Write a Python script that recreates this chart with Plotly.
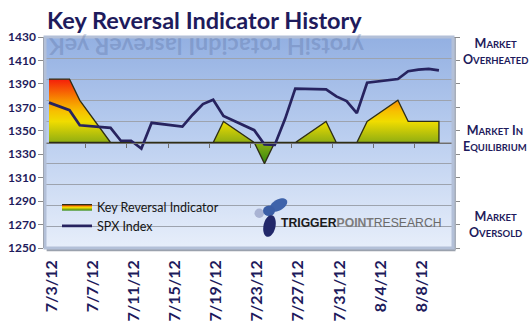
import base64
import math
import pandas as pd
import plotly.graph_objects as go

# ---------------- data ----------------
dates = ["2012-07-03", "2012-07-05", "2012-07-06", "2012-07-09", "2012-07-10",
         "2012-07-11", "2012-07-12", "2012-07-13", "2012-07-16", "2012-07-17",
         "2012-07-18", "2012-07-19", "2012-07-20", "2012-07-23", "2012-07-24",
         "2012-07-25", "2012-07-26", "2012-07-27", "2012-07-30", "2012-07-31",
         "2012-08-01", "2012-08-02", "2012-08-03", "2012-08-06", "2012-08-07",
         "2012-08-08", "2012-08-09", "2012-08-10"]
spx_values = [1374.0, 1367.6, 1354.7, 1352.5, 1341.5, 1341.5, 1334.8, 1356.8,
              1353.6, 1363.7, 1372.8, 1376.5, 1362.7, 1350.5, 1338.3, 1337.9,
              1360.0, 1386.0, 1385.3, 1379.3, 1375.3, 1365.0, 1391.0, 1394.2,
              1400.8, 1402.2, 1402.8, 1401.5]
kri_values = [3, 3, 2, 0, 0, 0, 0, 0, 0, 0, 0, 0, 1, 0, -1, 0, 0, 0, 1, 0,
              0, 0, 1, 2, 1, 1, 1, 1]
x_tick_labels = ["7/3/12", "7/7/12", "7/11/12", "7/15/12", "7/19/12",
                 "7/23/12", "7/27/12", "7/31/12", "8/4/12", "8/8/12"]
y_tick_values = [1250, 1270, 1290, 1310, 1330, 1350, 1370, 1390, 1410, 1430]
right_labels = [("Market", "Overheated"), ("Market in", "Equilibrium"), ("Market", "Oversold")]

NAVY = "#1e1b5c"
W, H = 532, 326
L, R, T, B = 45, 79, 37, 78
PW, PH = W - L - R, H - T - B


def px(xp):
    return (xp - L) / PW


def py(yp):
    return (H - B - yp) / PH


def ellipse_path(cx, cy, rx, ry, ang_deg, n=36):
    a = math.radians(ang_deg)
    pts = []
    for i in range(n):
        t = 2 * math.pi * i / n
        ex, ey = rx * math.cos(t), ry * math.sin(t)
        xp = cx + ex * math.cos(a) - ey * math.sin(a)
        yp = cy + ex * math.sin(a) + ey * math.cos(a)
        pts.append(f"{px(xp):.5f},{py(yp):.5f}")
    return "M" + " L".join(pts) + " Z"


d0 = pd.Timestamp(dates[0])
x_range = [d0 - pd.Timedelta(days=0.39), d0 + pd.Timedelta(days=39.37)]
tick_dates = [pd.Timestamp(f"2012-{t.split('/')[0]}-{t.split('/')[1]}") + pd.Timedelta(hours=7)
              for t in x_tick_labels]
base_ticks = [d0 + pd.Timedelta(days=3.6 + 4 * k) for k in range(9)]

fig = go.Figure()

# indicator area (closed polygon to the zero baseline)
poly_x = dates + [dates[-1], dates[0]]
poly_y = kri_values + [0, 0]
fig.add_trace(go.Scatter(
    x=poly_x, y=poly_y, xaxis="x", yaxis="y", mode="lines", fill="toself",
    name="Key Reversal Indicator",
    line=dict(color="#2e2e16", width=1.3),
    fillgradient=dict(type="vertical", start=-1, stop=3,
                      colorscale=[[0.0, "#2f8a10"], [0.25, "#8fae12"],
                                  [0.5, "#f0dc00"], [0.62, "#f7c000"],
                                  [0.75, "#f79000"], [1.0, "#f51e0a"]]),
    hoverinfo="skip"))

fig.add_trace(go.Scatter(
    x=dates, y=spx_values, xaxis="x2", yaxis="y2", mode="lines",
    name="SPX Index", line=dict(color="#27235f", width=2.7)))

# background gradient
svg = ("<svg xmlns='http://www.w3.org/2000/svg' width='10' height='100' preserveAspectRatio='none'>"
       "<defs><linearGradient id='g' x1='0' y1='0' x2='0' y2='1'>"
       "<stop offset='0' stop-color='#93b0e2'/><stop offset='0.5' stop-color='#bdd0f0'/>"
       "<stop offset='1' stop-color='#e7eefa'/></linearGradient></defs>"
       "<rect width='10' height='100' fill='url(#g)'/></svg>")
bg_src = "data:image/svg+xml;base64," + base64.b64encode(svg.encode()).decode()

title = "Key Reversal Indicator History"
annotations = [
    dict(text=title, xref="paper", yref="paper", x=px(45), y=py(20),
         xanchor="left", yanchor="middle", showarrow=False,
         font=dict(family="Lato", size=23.5, color=NAVY, weight="bold")),
    # faded mirror reflection of the title at the top of the wall
    dict(text=title[::-1], textangle=180, xref="paper", yref="paper",
         x=px(206), y=py(31), xanchor="center", yanchor="top", showarrow=False,
         font=dict(family="Lato", size=23.5, color="rgba(80,100,150,0.28)", weight="bold")),
    dict(text="<b>TRIGGER</b><b><span style='color:#7c7c7c'>POINT</span></b>"
              "<span style='color:#6a6a6a'>RESEARCH</span>",
         xref="paper", yref="paper", x=px(279), y=py(223), xanchor="left",
         yanchor="middle", showarrow=False,
         font=dict(family="Liberation Sans", size=12.2, color="#1a1a1a")),
]
for (a, b), yc in zip(right_labels, [51, 138.5, 224.5]):
    def sc(s):
        words = []
        for w in s.split(" "):
            words.append(w[0].upper() + "<span style='font-size:9.5px'>" + w[1:].upper() + "</span>")
        return " ".join(words)
    annotations.append(dict(
        text=sc(a) + "<br>" + sc(b), xref="paper", yref="paper", x=px(495), y=py(yc),
        xanchor="center", yanchor="middle", showarrow=False, align="center",
        font=dict(family="Lato", size=12.5, color=NAVY, weight="bold")))

shapes = [
    # wall shadow (bottom / right) and bevel border
    dict(type="line", xref="paper", yref="paper", x0=0.004, x1=1 + 2.5 / PW,
         y0=-2 / PH, y1=-2 / PH, line=dict(color="#9aa1ad", width=2.5), layer="above"),
    dict(type="line", xref="paper", yref="paper", x0=1 + 2 / PW, x1=1 + 2 / PW,
         y0=-2 / PH, y1=0.995, line=dict(color="#a7aeba", width=2), layer="above"),
    dict(type="rect", xref="paper", yref="paper", x0=0, x1=1, y0=0, y1=1,
         line=dict(color="#b3c0d8", width=3), layer="above"),
    # logo blobs
    dict(type="circle", xref="paper", yref="paper", x0=px(254.5), x1=px(264),
         y0=py(218), y1=py(208.5), fillcolor="#a9b3d3", line=dict(width=0)),
    dict(type="path", xref="paper", yref="paper", path=ellipse_path(278.5, 205, 9.5, 5.5, -30),
         fillcolor="#3f63aa", line=dict(width=0)),
    dict(type="circle", xref="paper", yref="paper", x0=px(263), x1=px(275),
         y0=py(216), y1=py(205.5), fillcolor="#3b5ea6", line=dict(width=0)),
    dict(type="path", xref="paper", yref="paper", path=ellipse_path(269.5, 226, 6, 11, 12),
         fillcolor="#22286a", line=dict(width=0)),
]

fig.update_layout(
    width=W, height=H, margin=dict(l=L, r=R, t=T, b=B, autoexpand=False),
    paper_bgcolor="white", plot_bgcolor="rgba(0,0,0,0)",
    images=[dict(source=bg_src, xref="paper", yref="paper", x=0, y=1, sizex=1, sizey=1,
                 sizing="stretch", layer="below", xanchor="left", yanchor="top")],
    xaxis=dict(type="date", range=x_range, anchor="free", position=0.5, automargin=False,
               showline=True, linecolor="#6e6e6e", linewidth=1.2,
               tickmode="array", tickvals=base_ticks, ticks="outside", ticklen=4,
               tickcolor="#6e6e6e", showticklabels=False, showgrid=False, zeroline=False),
    xaxis2=dict(type="date", range=x_range, overlaying="x", anchor="y2", automargin=False,
                tickmode="array", tickvals=tick_dates, ticktext=x_tick_labels,
                tickangle=-90, ticks="", ticklabelstandoff=8, showgrid=False,
                showline=False, zeroline=False,
                tickfont=dict(family="Lato", size=16, color=NAVY, weight="bold")),
    yaxis=dict(range=[-5, 5], dtick=1, tick0=0, side="right", showgrid=True, automargin=False,
               gridcolor="#9da3ae", gridwidth=1, showticklabels=False, ticks="",
               zeroline=False, showline=False),
    yaxis2=dict(range=[1250, 1430], overlaying="y", side="left", automargin=False,
                tickmode="array", tickvals=y_tick_values, showgrid=False, zeroline=False,
                showline=True, linecolor="#8a8a8a", linewidth=1.5, mirror="allticks",
                ticks="outside", ticklen=5, tickcolor="#8a8a8a",
                tickfont=dict(family="Lato", size=12, color=NAVY, weight="bold")),
    legend=dict(x=px(57), y=py(192), xanchor="left", yanchor="top",
                bgcolor="rgba(0,0,0,0)", font=dict(family="Lato", size=12.5, color="#151515"),
                itemwidth=30, tracegroupgap=0),
    annotations=annotations, shapes=shapes, showlegend=True,
)

fig.write_html("out.html")
